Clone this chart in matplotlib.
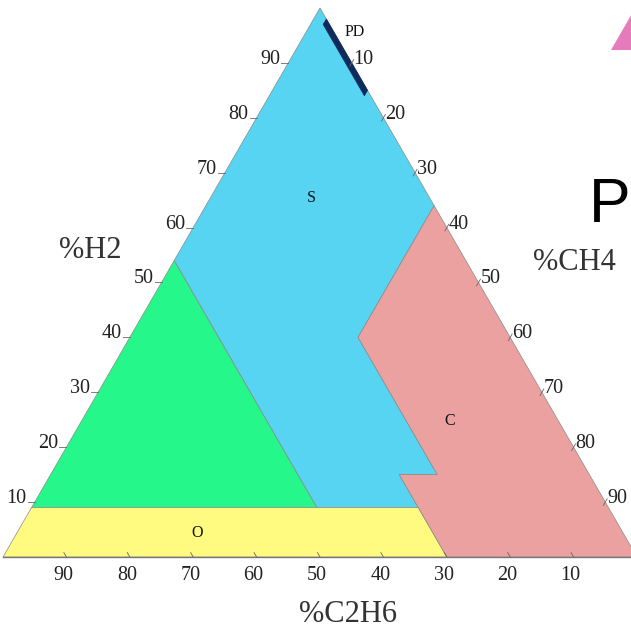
import numpy as np
import matplotlib.pyplot as plt
from matplotlib.patches import Polygon

# zone corners as (%H2, %CH4, %C2H6)
zone_S = [(100, 0, 0), (64, 36, 0), (40, 36, 24), (15, 61, 24), (15, 55, 30),
          (9, 61, 30), (9, 45, 46), (54, 0, 46)]
zone_ND = [(54, 0, 46), (9, 45, 46), (9, 0, 91)]
zone_O = [(9, 0, 91), (9, 61, 30), (0, 70, 30), (0, 0, 100)]
zone_C = [(64, 36, 0), (40, 36, 24), (15, 61, 24), (15, 55, 30), (0, 70, 30), (0, 100, 0)]
zone_PD = [(98, 2, 0), (85, 15, 0), (84, 15, 1), (97, 2, 1)]

zone_colors = {'S': '#57d4f2', 'ND': '#26f78b', 'O': '#fffa80', 'C': '#eba1a0', 'PD': '#0e2b5c'}

# zone label spots (%H2, %CH4)
zone_labels = ['PD', 'S', 'C', 'O']
zone_label_pos = [(95.6, 7.7), (65.4, 15.9), (24.8, 58.1), (4.4, 28.4)]

tick_values = [10, 20, 30, 40, 50, 60, 70, 80, 90]

SQ = np.sqrt(3) / 2


def tern(h, m, e=None):
    h, m = h / 100.0, m / 100.0
    return m + h / 2, h * SQ


fig = plt.figure(figsize=(6.31, 6.34), dpi=100)
ax = fig.add_axes([0, 0, 1, 1])
ax.set_xlim(-3 / 634, 628 / 634)
ax.set_ylim(-77 / 634, 557 / 634)
ax.axis('off')

zones = [('S', zone_S), ('ND', zone_ND), ('O', zone_O), ('C', zone_C), ('PD', zone_PD)]
for name, pts in zones:
    xy = [tern(h, m) for h, m, e in pts]
    ax.add_patch(Polygon(xy, closed=True, facecolor=zone_colors[name],
                         edgecolor='#8a8a8a' if name != 'PD' else zone_colors[name],
                         linewidth=0.5, zorder=2))

# base line
x0, y0 = tern(0, 0)
x1, y1 = tern(0, 100)
ax.plot([x0, x1], [y0, y1], color='#777777', lw=1.0, zorder=3)

serif = 'Liberation Serif'
tick_kw = dict(fontsize=14.5, family=serif, color='#222222', zorder=4)
tl = 0.011
px = 1 / 634
for v in tick_values:
    # %H2 on the left side
    x, y = tern(v, 0)
    ax.plot([x - tl, x], [y, y], color='#666666', lw=0.6, zorder=3)
    ax.text(x - tl - 0.002, y - 6 * px, str(v), ha='right', va='bottom', **tick_kw)
    # %CH4 on the right side
    x, y = tern(100 - v, v)
    dx, dy = 0.5 * 0.012, SQ * 0.012
    ax.plot([x - dx / 2, x + dx / 2], [y - dy / 2, y + dy / 2], color='#666666', lw=0.6, zorder=3)
    ax.text(x + 2 * px, y - 6 * px, str(v), ha='left', va='bottom', **tick_kw)
    # %C2H6 on the base
    x, y = tern(0, 100 - v)
    ax.plot([x, x - 0.5 * 0.008], [y, y + SQ * 0.008], color='#666666', lw=0.6, zorder=3)
    ax.text(x - 3 * px, y - 19 * px, str(v), ha='center', va='center', **tick_kw)

for lab, (h, m) in zip(zone_labels, zone_label_pos):
    x, y = tern(h, m)
    ax.text(x, y, lab, ha='center', va='center', fontsize=11.5, family=serif,
            color='#111111', zorder=5)

title_kw = dict(fontsize=22, family=serif, color='#333333', ha='center', va='center')
ax.text(87 / 634, 307 / 634, '%H2', **title_kw)
ax.text(571 / 634, 294 / 634, '%CH4', **title_kw)
ax.text(345 / 634, -58 / 634, '%C2H6', **title_kw)

# pieces of the neighbouring figure at the right edge
ax.text(586 / 634, 352 / 634, 'P', fontsize=45, family='Liberation Sans',
        color='black', ha='left', va='center')
s = 50 / 634
bx, by = 608 / 634, 507 / 634
ax.add_patch(Polygon([(bx, by), (bx + s, by), (bx + s / 2, by + s * SQ)],
                     closed=True, facecolor='#e67bbb', edgecolor='none'))

fig.savefig('out.png', dpi=100)
